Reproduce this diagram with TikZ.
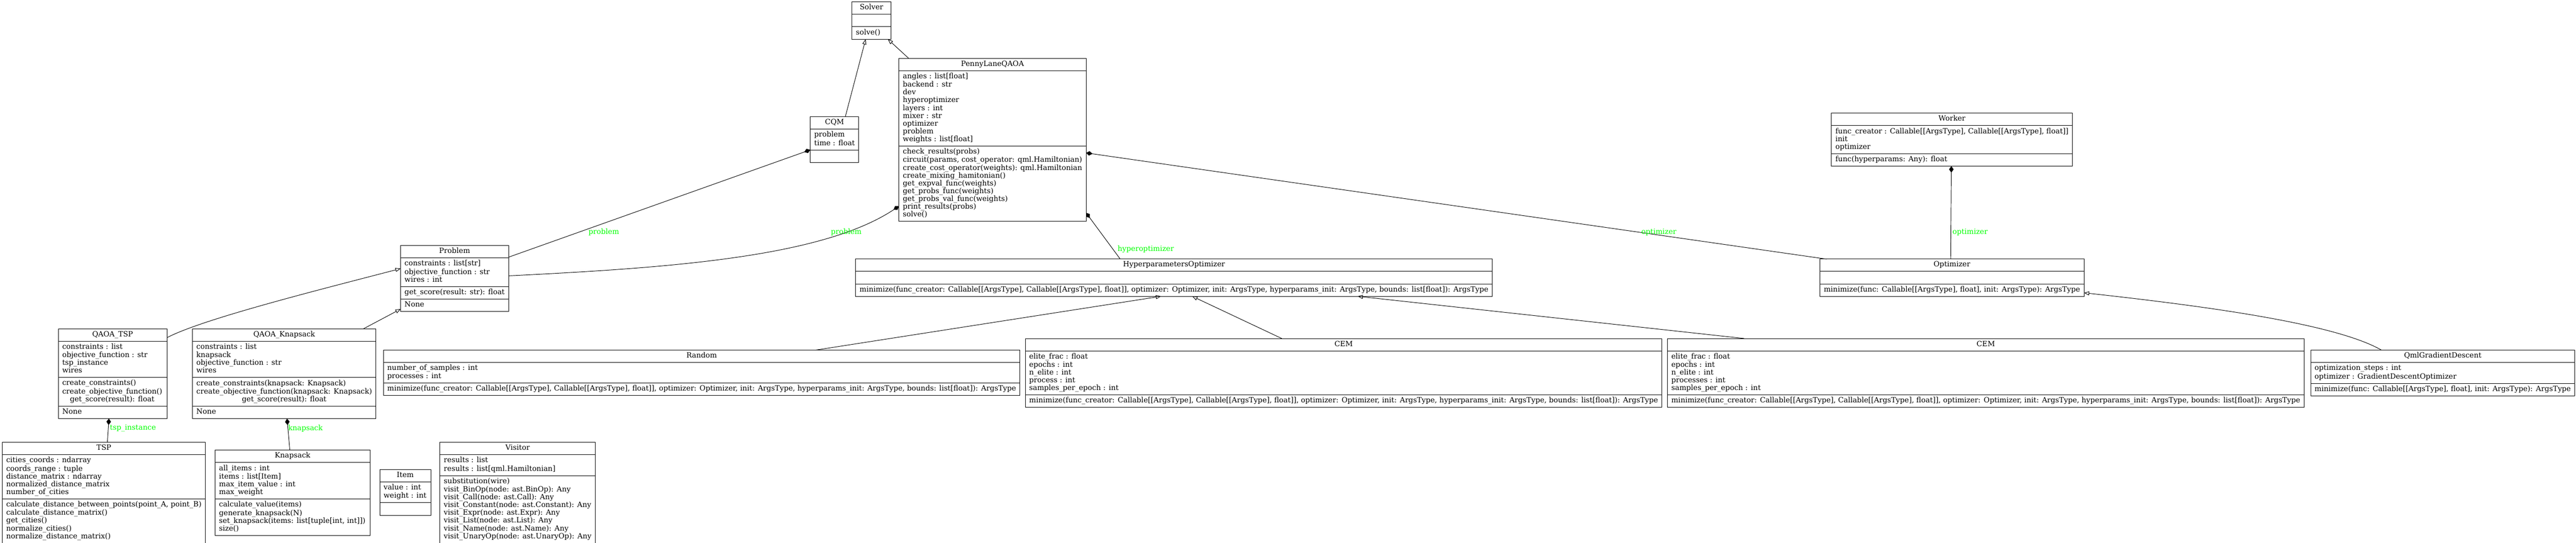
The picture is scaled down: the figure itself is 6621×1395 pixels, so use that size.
\documentclass[tikz,border=0pt]{standalone}
\usepackage{fontspec}
\setmainfont{DejaVu Serif}
\usepackage{tikz}
\usetikzlibrary{shapes.multipart, arrows.meta, calc}
\definecolor{rolegreen}{RGB}{0,255,0}
\newcommand{\classfont}{\fontsize{13.44}{14.4}\selectfont}
\newcommand{\rows}[1]{\strut#1\strut}
\tikzset{class node/.style={draw, line width=0.9pt, rectangle split, rectangle split parts=3, rectangle split part align={center,left,left}, minimum width=#1*0.72pt, inner xsep=7.2pt, inner ysep=3.8pt, outer sep=0pt, anchor=north, align=left, font=\classfont}}
\tikzset{four part node/.style={class node=#1, rectangle split parts=4, rectangle split part align={center,left,left,left}}}
\tikzset{role label/.style={text=rolegreen, font=\classfont, inner sep=0pt, anchor=west}}
\tikzset{inherit/.style={-{Triangle[open, length=9.6pt, width=7.2pt]}}}
\tikzset{compose/.style={{Diamond[length=12pt, width=8.4pt]}-}}

\begin{document}
\begin{tikzpicture}[x=0.72pt, y=-0.72pt, line width=0.9pt]
\useasboundingbox (0,0) rectangle (6621,1395);

% top ranks
\node[class node=100] (solver) at (2240,5) {\rows{Solver}\nodepart{two}\rows{}\nodepart{three}\rows{solve()}};
\node[class node=120] (cqm) at (2145,300) {\rows{CQM}\nodepart{two}\rows{problem\\time : float}\nodepart{three}\rows{}};
\node[class node=480] (penny) at (2551,150) {\rows{PennyLaneQAOA}
  \nodepart{two}\rows{angles : list[float]\\backend : str\\dev\\hyperoptimizer\\layers : int\\mixer : str\\optimizer\\problem\\weights : list[float]}
  \nodepart{three}\rows{check\_results(probs)\\circuit(params, cost\_operator: qml.Hamiltonian)\\create\_cost\_operator(weights): qml.Hamiltonian\\create\_mixing\_hamitonian()\\get\_expval\_func(weights)\\get\_probs\_func(weights)\\get\_probs\_val\_func(weights)\\print\_results(probs)\\solve()}};
\node[class node=616] (worker) at (5017,291) {\rows{Worker}
  \nodepart{two}\rows{func\_creator : Callable[[ArgsType], Callable[[ArgsType], float]]\\init\\optimizer}
  \nodepart{three}\rows{func(hyperparams: Any): float}};

% middle rank
\node[four part node=275] (problem) at (1168.5,631) {\rows{Problem}
  \nodepart{two}\rows{constraints : list[str]\\objective\_function : str\\wires : int}
  \nodepart{three}\rows{get\_score(result: str): float}
  \nodepart{four}\rows{None}};
\node[class node=1625] (hopt) at (3017.5,666) {\rows{HyperparametersOptimizer}\nodepart{two}\rows{}
  \nodepart{three}\rows{minimize(func\_creator: Callable[[ArgsType], Callable[[ArgsType], float]], optimizer: Optimizer, init: ArgsType, hyperparams\_init: ArgsType, bounds: list[float]): ArgsType}};
\node[class node=672] (optim) at (5017,666) {\rows{Optimizer}\nodepart{two}\rows{}
  \nodepart{three}\rows{minimize(func: Callable[[ArgsType], float], init: ArgsType): ArgsType}};

% subclasses
\node[four part node=279] (qtsp) at (289.5,845) {\rows{QAOA\_TSP}
  \nodepart{two}\rows{constraints : list\\objective\_function : str\\tsp\_instance\\wires}
  \nodepart{three}\rows{create\_constraints()\\create\_objective\_function()\\\hfil get\_score(result): float}
  \nodepart{four}\rows{None}};
\node[four part node=469] (qknap) at (730.5,845) {\rows{QAOA\_Knapsack}
  \nodepart{two}\rows{constraints : list\\knapsack\\objective\_function : str\\wires}
  \nodepart{three}\rows{create\_constraints(knapsack: Knapsack)\\create\_objective\_function(knapsack: Knapsack)\\\hfil get\_score(result): float}
  \nodepart{four}\rows{None}};
\node[class node=1627] (random) at (1803.5,900) {\rows{Random}
  \nodepart{two}\rows{number\_of\_samples : int\\processes : int}
  \nodepart{three}\rows{minimize(func\_creator: Callable[[ArgsType], Callable[[ArgsType], float]], optimizer: Optimizer, init: ArgsType, hyperparams\_init: ArgsType, bounds: list[float]): ArgsType}};
\node[class node=1627] (cem1) at (3453.5,870) {\rows{CEM}
  \nodepart{two}\rows{elite\_frac : float\\epochs : int\\n\_elite : int\\process : int\\samples\_per\_epoch : int}
  \nodepart{three}\rows{minimize(func\_creator: Callable[[ArgsType], Callable[[ArgsType], float]], optimizer: Optimizer, init: ArgsType, hyperparams\_init: ArgsType, bounds: list[float]): ArgsType}};
\node[class node=1626] (cem2) at (5104,870) {\rows{CEM}
  \nodepart{two}\rows{elite\_frac : float\\epochs : int\\n\_elite : int\\processes : int\\samples\_per\_epoch : int}
  \nodepart{three}\rows{minimize(func\_creator: Callable[[ArgsType], Callable[[ArgsType], float]], optimizer: Optimizer, init: ArgsType, hyperparams\_init: ArgsType, bounds: list[float]): ArgsType}};
\node[class node=673] (qmlgd) at (6278.5,900) {\rows{QmlGradientDescent}
  \nodepart{two}\rows{optimization\_steps : int\\optimizer : GradientDescentOptimizer}
  \nodepart{three}\rows{minimize(func: Callable[[ArgsType], float], init: ArgsType): ArgsType}};

% bottom rank
\node[class node=522] (tsp) at (267,1137) {\rows{TSP}
  \nodepart{two}\rows{cities\_coords : ndarray\\coords\_range : tuple\\distance\_matrix : ndarray\\normalized\_distance\_matrix\\number\_of\_cities}
  \nodepart{three}\rows{calculate\_distance\_between\_points(point\_A, point\_B)\\calculate\_distance\_matrix()\\get\_cities()\\normalize\_cities()\\normalize\_distance\_matrix()}};
\node[class node=398] (knap) at (752,1157) {\rows{Knapsack}
  \nodepart{two}\rows{all\_items : int\\items : list[Item]\\max\_item\_value : int\\max\_weight}
  \nodepart{three}\rows{calculate\_value(items)\\generate\_knapsack(N)\\set\_knapsack(items: list[tuple[int, int]])\\size()}};
\node[class node=131] (item) at (1041.5,1207) {\rows{Item}
  \nodepart{two}\rows{value : int\\weight : int}
  \nodepart{three}\rows{}};
\node[class node=399] (visitor) at (1330.5,1137) {\rows{Visitor}
  \nodepart{two}\rows{results : list\\results : list[qml.Hamiltonian]}
  \nodepart{three}\rows{substitution(wire)\\visit\_BinOp(node: ast.BinOp): Any\\visit\_Call(node: ast.Call): Any\\visit\_Constant(node: ast.Constant): Any\\visit\_Expr(node: ast.Expr): Any\\visit\_List(node: ast.List): Any\\visit\_Name(node: ast.Name): Any\\visit\_UnaryOp(node: ast.UnaryOp): Any}};

% inheritance
\draw[inherit] ($(cqm.north west)+(90,0)$) -- ($(solver.south west)+(35,0)$);
\draw[inherit] ($(penny.north west)+(25,0)$) -- ($(solver.south east)+(-8,0)$);
\draw[inherit] ($(qtsp.north east)+(0,23)$) .. controls (520,820) and (820,745) .. ($(problem.south west)+(0,-110)$);
\draw[inherit] ($(qknap.north east)+(-32,0)$) -- ($(problem.south west)+(0,-6)$);
\draw[inherit] ($(random.north west)+(1110,0)$) -- ($(hopt.south west)+(785,0)$);
\draw[inherit] ($(cem1.north west)+(659,0)$) -- ($(hopt.south west)+(865,0)$);
\draw[inherit] ($(cem2.north west)+(197,0)$) -- ($(hopt.south west)+(1290,0)$);
\draw[inherit] ($(qmlgd.north west)+(182,0)$) .. controls (6000,830) and (5650,785) .. ($(optim.south east)+(0,-9)$);

% composition
\draw[compose] ($(cqm.south west)+(0,-32)$) -- ($(problem.north east)+(0,30)$);
\draw[compose] ($(penny.south west)+(0,-39)$) .. controls (2111,663) and (1706,689) .. ($(problem.north east)+(0,78)$);
\draw[compose] ($(qtsp.south west)+(130,0)$) -- ($(tsp.north west)+(270,0)$);
\draw[compose] ($(qknap.south west)+(243,0)$) -- ($(knap.north west)+(192,0)$);
\draw[compose] ($(penny.south east)+(0,-22)$) -- ($(hopt.north west)+(680,0)$);
\draw[compose] ($(penny.north east)+(0,243)$) -- ($(optim.north west)+(17,0)$);
\draw[compose] ($(worker.south west)+(308,0)$) -- ($(optim.north west)+(336,0)$);

% role labels
\node[role label] (rprob1) at (1512,597) {problem};
\node[role label] (rprob2) at (2135,597) {problem};
\node[role label] (rtsp) at (282,1101) {tsp\_instance};
\node[role label] (rknap) at (740,1101) {knapsack};
\node[role label] (rhyper) at (2872,640) {hyperoptimizer};
\node[role label] (ropt1) at (4218,597) {optimizer};
\node[role label] (ropt2) at (5018,597) {optimizer};
\end{tikzpicture}
\end{document}
